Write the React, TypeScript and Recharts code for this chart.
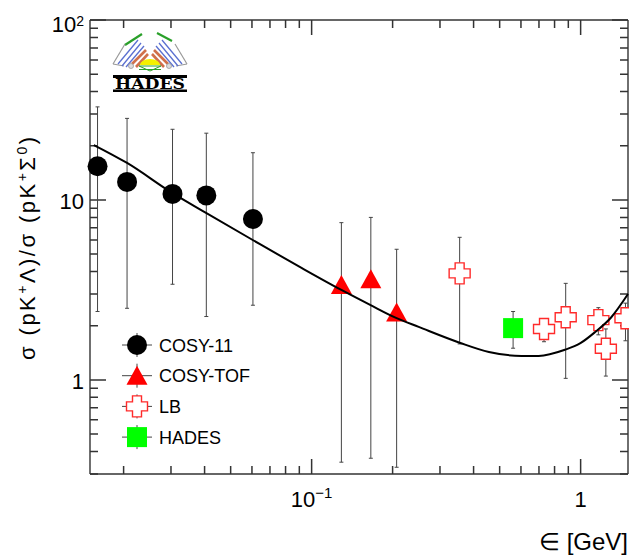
import React from 'react';
import { ComposedChart, Scatter, XAxis, YAxis, ErrorBar, Legend, ReferenceLine } from 'recharts';

const FONT = '"Liberation Sans", Arial, Helvetica, sans-serif';

// COSY-11
const cosy11X = [0.016, 0.0206, 0.0304, 0.0406, 0.0605];
const cosy11Y = [15.4, 12.6, 10.8, 10.6, 7.84];
const cosy11Low = [2.4, 2.5, 3.4, 2.25, 2.6];
const cosy11High = [32.9, 28.4, 24.7, 23.5, 18.3];

// COSY-TOF
const tofX = [0.129, 0.166, 0.207];
const tofY = [3.37, 3.63, 2.37];
const tofLow = [0.349, 0.367, 0.327];
const tofHigh = [7.48, 8.0, 5.32];

// LB
const lbX = [0.355, 0.731, 0.88, 1.164, 1.241, 1.468];
const lbY = [3.91, 1.92, 2.23, 2.15, 1.49, 2.2];
const lbLow = [1.585, 1.63, 1.02, 1.78, 1.05, 1.65];
const lbHigh = [6.2, 2.18, 3.44, 2.52, 1.92, 2.67];

// HADES
const hadesX = [0.561];
const hadesY = [1.94];
const hadesLow = [1.5];
const hadesHigh = [2.4];

// model curve
const curveX = [0.0155, 0.0206, 0.0303, 0.0405, 0.0604, 0.0917, 0.129, 0.165, 0.206, 0.25, 0.355, 0.456, 0.603, 0.698, 0.874, 0.998, 1.13, 1.3, 1.5];
const curveY = [20.2, 16.05, 10.94, 8.47, 5.99, 4.19, 3.16, 2.61, 2.21, 1.97, 1.61, 1.43, 1.36, 1.36, 1.47, 1.6, 1.84, 2.23, 3.0];

// axes
const xDomain = [0.015, 1.5];
const yDomain = [0.3, 100];
const xTicks = [0.02, 0.03, 0.04, 0.05, 0.06, 0.07, 0.08, 0.09, 0.1, 0.2, 0.3, 0.4, 0.5, 0.6, 0.7, 0.8, 0.9, 1];
const xMajor = [0.1, 1];
const xMajorBase = ['10', '1'];
const xMajorExp = ['\u22121', ''];
const yTicks = [0.3, 0.4, 0.5, 0.6, 0.7, 0.8, 0.9, 1, 2, 3, 4, 5, 6, 7, 8, 9, 10, 20, 30, 40, 50, 60, 70, 80, 90, 100];
const yMajor = [1, 10, 100];
const yMajorBase = ['1', '10', '10'];
const yMajorExp = ['', '', '2'];

const legendNames = ['COSY-11', 'COSY-TOF', 'LB', 'HADES'];

const toPoints = (xs: number[], ys: number[], lo: number[], hi: number[]) =>
  xs.map((x, i) => ({ x, y: ys[i], err: [ys[i] - lo[i], hi[i] - ys[i]] }));

const cosy11Data = toPoints(cosy11X, cosy11Y, cosy11Low, cosy11High);
const tofData = toPoints(tofX, tofY, tofLow, tofHigh);
const lbData = toPoints(lbX, lbY, lbLow, lbHigh);
const hadesData = toPoints(hadesX, hadesY, hadesLow, hadesHigh);
const curveData = curveX.map((x, i) => ({ x, y: curveY[i] }));

const AX = '#333';

const CircleShape = (p: any) => <circle cx={p.cx} cy={p.cy} r={10} fill="#000" />;
const TriangleShape = (p: any) => (
  <polygon points={`${p.cx},${p.cy - 10} ${p.cx - 10.5},${p.cy + 9} ${p.cx + 10.5},${p.cy + 9}`} fill="#ff0000" />
);
const crossPts = (cx: number, cy: number) => {
  const a = 4.5, s = 10.5;
  return [
    [cx - a, cy - s], [cx + a, cy - s], [cx + a, cy - a], [cx + s, cy - a], [cx + s, cy + a], [cx + a, cy + a],
    [cx + a, cy + s], [cx - a, cy + s], [cx - a, cy + a], [cx - s, cy + a], [cx - s, cy - a], [cx - a, cy - a],
  ].map((q) => q.join(',')).join(' ');
};
const CrossShape = (p: any) => (
  <polygon points={crossPts(p.cx, p.cy)} fill="#fff" stroke="#ff2a2a" strokeWidth={1.4} />
);
const SquareShape = (p: any) => <rect x={p.cx - 10} y={p.cy - 10} width={20} height={20} fill="#00ff00" />;
const NoShape = () => <g />;
const EmptyTick = () => <g />;

const idx = (arr: number[], v: number) => arr.findIndex((m) => Math.abs(m - v) < 1e-9);

// tick labels
const XLabel = (props: any) => {
  const x = Number(props.x), y = Number(props.y);
  const mi = idx(xMajor, props.payload.value);
  if (mi < 0) return <g />;
  return (
    <text x={x} y={y + 33} textAnchor="middle" fontSize={22} fontFamily={FONT} fill="#000">
      {xMajorBase[mi]}
      {xMajorExp[mi] && <tspan dy={-9} fontSize={15}>{xMajorExp[mi]}</tspan>}
    </text>
  );
};

const YLabel = (props: any) => {
  const x = Number(props.x), y = Number(props.y);
  const mi = idx(yMajor, props.payload.value);
  if (mi < 0) return <g />;
  const hasExp = yMajorExp[mi] !== '';
  return (
    <text x={x - 6} y={y + (hasExp ? 12 : 9)} textAnchor="end" fontSize={22} fontFamily={FONT} fill="#000">
      {yMajorBase[mi]}
      {hasExp && <tspan dy={-6} fontSize={14}>{yMajorExp[mi]}</tspan>}
    </text>
  );
};

// tick marks: short pieces at both ends of a reference line (inside the frame)
const makeXTickShape = (len: number) => (p: any) => {
  const x = Number(p.x1);
  const yb = Math.max(Number(p.y1), Number(p.y2));
  const yt = Math.min(Number(p.y1), Number(p.y2));
  return (
    <path d={`M${x},${yb}V${yb - len}M${x},${yt}V${yt + len}`} stroke={AX} strokeWidth={1.5} fill="none" />
  );
};
const makeYTickShape = (len: number) => (p: any) => {
  const y = Number(p.y1);
  const xl = Math.min(Number(p.x1), Number(p.x2));
  const xr = Math.max(Number(p.x1), Number(p.x2));
  return (
    <path d={`M${xl},${y}H${xl + len}M${xr},${y}H${xr - len}`} stroke={AX} strokeWidth={1.5} fill="none" />
  );
};
const xMajorShape = makeXTickShape(15);
const xMinorShape = makeXTickShape(8);
const yMajorShape = makeYTickShape(16);
const yMinorShape = makeYTickShape(8);

const legendShapes = [CircleShape, TriangleShape, CrossShape, SquareShape];

const LegendContent = () => (
  <svg width={200} height={130} style={{ display: 'block' }}>
    {legendNames.map((name, i) => {
      const cy = 15 + i * 30.7;
      const Shape = legendShapes[i];
      return (
        <g key={name}>
          <line x1={12} x2={42} y1={cy} y2={cy} stroke="#444" strokeWidth={1} />
          <line x1={27} x2={27} y1={cy - 12} y2={cy + 12} stroke="#444" strokeWidth={1} />
          <Shape cx={27} cy={cy} />
          <text x={49} y={cy + 6.5} fontSize={18} fontFamily={FONT} fill="#000">{name}</text>
        </g>
      );
    })}
  </svg>
);

const Logo = () => {
  const left = [
    { x1: 125, y1: 44, x2: 113, y2: 64, c: '#999', w: 1.2 },
    { x1: 113, y1: 64, x2: 124, y2: 66, c: '#999', w: 1.2 },
    { x1: 138, y1: 40, x2: 118, y2: 64, c: '#5a6fd0', w: 1.3 },
    { x1: 141, y1: 43, x2: 122, y2: 66, c: '#5a6fd0', w: 1.3 },
    { x1: 144, y1: 46, x2: 126, y2: 67, c: '#5a6fd0', w: 1.3 },
    { x1: 146, y1: 50, x2: 132, y2: 64, c: '#d0704a', w: 2.6 },
    { x1: 148, y1: 54, x2: 136, y2: 67, c: '#d0704a', w: 2.6 },
  ];
  const lines = [...left, ...left.map((l) => ({ ...l, x1: 300 - l.x1, x2: 300 - l.x2 }))];
  return (
    <g>
      <line x1={125} y1={45} x2={142} y2={34} stroke="#2aa02a" strokeWidth={2.2} />
      <line x1={157} y1={33} x2={172} y2={41} stroke="#2aa02a" strokeWidth={2.2} />
      {lines.map((l, i) => (
        <line key={i} x1={l.x1} y1={l.y1} x2={l.x2} y2={l.y2} stroke={l.c} strokeWidth={l.w} />
      ))}
      <circle cx={131} cy={66} r={2.5} fill="#ddd" stroke="#999" strokeWidth={0.8} />
      <circle cx={169} cy={66} r={2.5} fill="#ddd" stroke="#999" strokeWidth={0.8} />
      <path d="M140,65 A10,6 0 0 1 160,65 Z" fill="#f5f000" />
      <polygon points="139,66 161,66 150,71" fill="none" stroke="#2aa02a" strokeWidth={1} />
      <line x1={139} y1={69.5} x2={161} y2={69.5} stroke="#2aa02a" strokeWidth={1} />
      <rect x={113} y={75} width={74} height={3} fill="#000" />
      <text x={150} y={89} textAnchor="middle" fontSize={14} fontWeight="bold" fontFamily='"DejaVu Serif", serif' fill="#000" textLength={70} lengthAdjust="spacingAndGlyphs">HADES</text>
      <rect x={113} y={89.5} width={74} height={2.5} fill="#000" />
    </g>
  );
};

const axisStyle = { stroke: AX, strokeWidth: 1.4 };

export default function App() {
  return (
    <div style={{ position: 'absolute', left: 0, top: 0, width: 629, height: 556, background: '#fff' }}>
      <ComposedChart width={629} height={556} margin={{ top: 0, right: 0, bottom: 2, left: 10 }}>
        <XAxis xAxisId={0} dataKey="x" type="number" scale="log" domain={xDomain} ticks={xMajor} interval={0}
          height={80} tickSize={0} tickMargin={0} tickLine={false} axisLine={axisStyle} tick={XLabel} />
        <XAxis xAxisId="top" orientation="top" dataKey="x" type="number" scale="log" domain={xDomain} ticks={xMajor} interval={0}
          height={20} tickSize={0} tickMargin={0} tickLine={false} axisLine={axisStyle} tick={EmptyTick} />
        <YAxis yAxisId={0} dataKey="y" type="number" scale="log" domain={yDomain} ticks={yMajor} interval={0}
          width={80} tickSize={0} tickMargin={0} tickLine={false} axisLine={axisStyle} tick={YLabel} />
        <YAxis yAxisId="right" orientation="right" dataKey="y" type="number" scale="log" domain={yDomain} ticks={yMajor} interval={0}
          width={1} tickSize={0} tickMargin={0} tickLine={false} axisLine={axisStyle} tick={EmptyTick} />

        {xTicks.map((v) => (
          <ReferenceLine key={'xt' + v} x={v} ifOverflow="visible" isFront
            shape={idx(xMajor, v) >= 0 ? xMajorShape : xMinorShape} />
        ))}
        {yTicks.map((v) => (
          <ReferenceLine key={'yt' + v} y={v} ifOverflow="visible" isFront
            shape={idx(yMajor, v) >= 0 ? yMajorShape : yMinorShape} />
        ))}

        <Legend
          layout="vertical"
          align="center"
          verticalAlign="middle"
          content={() => <LegendContent />}
          wrapperStyle={{ position: 'absolute', left: 110, top: 330, width: 200, height: 130 }}
        />
        <Scatter name="COSY-11" data={cosy11Data} dataKey="y" shape={CircleShape} isAnimationActive={false}>
          <ErrorBar dataKey="err" direction="y" width={2} stroke="#444" strokeWidth={1} />
        </Scatter>
        <Scatter name="COSY-TOF" data={tofData} dataKey="y" shape={TriangleShape} isAnimationActive={false}>
          <ErrorBar dataKey="err" direction="y" width={2} stroke="#444" strokeWidth={1} />
        </Scatter>
        <Scatter name="LB" data={lbData} dataKey="y" shape={CrossShape} isAnimationActive={false}>
          <ErrorBar dataKey="err" direction="y" width={2} stroke="#444" strokeWidth={1} />
        </Scatter>
        <Scatter name="HADES" data={hadesData} dataKey="y" shape={SquareShape} isAnimationActive={false}>
          <ErrorBar dataKey="err" direction="y" width={2} stroke="#444" strokeWidth={1} />
        </Scatter>
        <Scatter
          name="model"
          data={curveData}
          dataKey="y"
          shape={NoShape}
          line={{ stroke: '#000', strokeWidth: 2 }}
          lineJointType="monotoneX"
          legendType="none"
          isAnimationActive={false}
        />
      </ComposedChart>
      <svg width={629} height={556} style={{ position: 'absolute', left: 0, top: 0, pointerEvents: 'none' }}>
        <Logo />
        <text x={628} y={550} textAnchor="end" fontSize={24} fontFamily={FONT} fill="#000">{'\u2208 [GeV]'}</text>
        <text
          transform="rotate(-90)"
          x={-137}
          y={35}
          textAnchor="end"
          fontSize={22}
          fontFamily={FONT}
          fill="#000"
          textLength={223}
          lengthAdjust="spacing"
        >
          {'\u03c3 (pK'}
          <tspan dy={-8} fontSize={14}>+</tspan>
          <tspan dy={8}>{'\u039b)/\u03c3 (pK'}</tspan>
          <tspan dy={-8} fontSize={14}>+</tspan>
          <tspan dy={8}>{'\u03a3'}</tspan>
          <tspan dy={-8} fontSize={14}>0</tspan>
          <tspan dy={8}>)</tspan>
        </text>
      </svg>
    </div>
  );
}
